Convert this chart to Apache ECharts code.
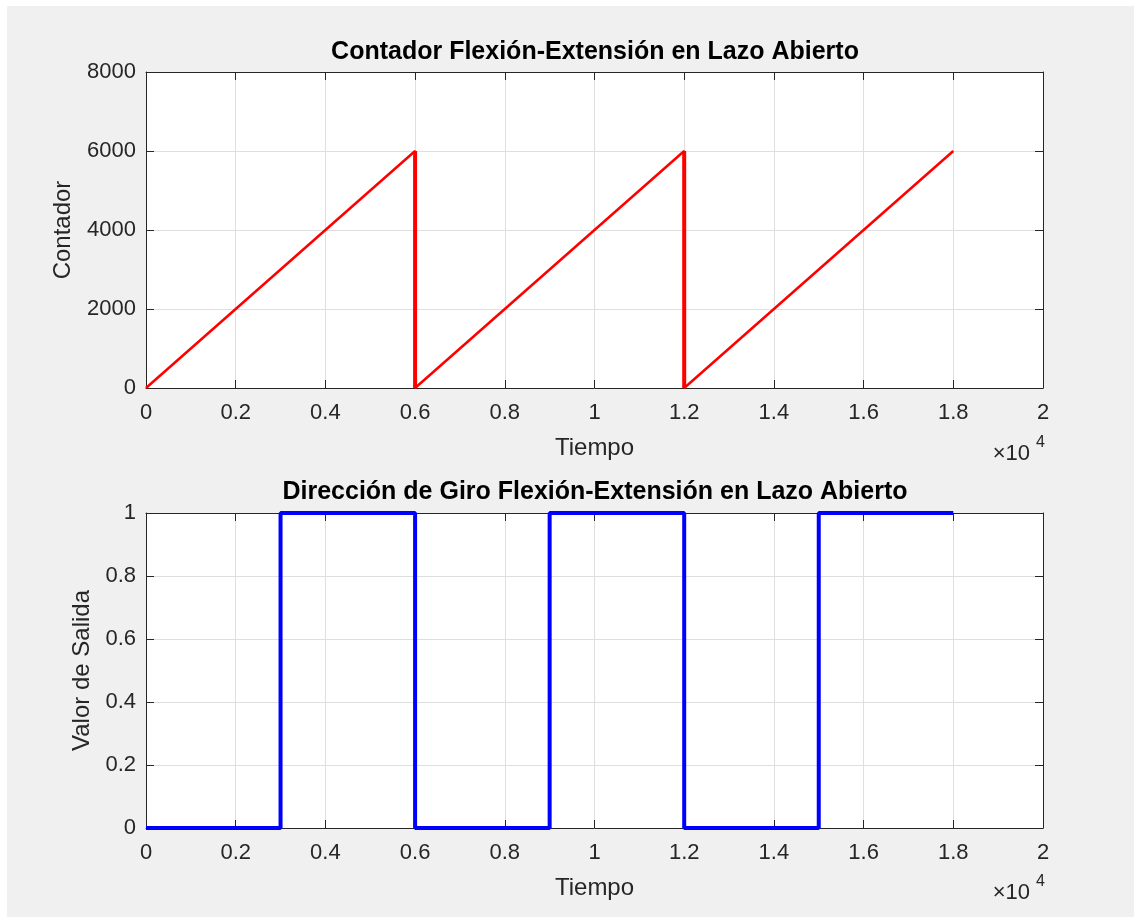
<!DOCTYPE html>
<html>
<head>
<meta charset="utf-8">
<script src="https://cdn.jsdelivr.net/npm/echarts@6/dist/echarts.min.js"></script>
<style>
  html, body { margin: 0; padding: 0; background: #ffffff; }
  #bg { position: absolute; left: 7px; top: 6px; width: 1127px; height: 911px; background: #f0f0f0; }
  #chart { position: absolute; left: 0; top: 0; width: 1134px; height: 917px; }
</style>
</head>
<body>
<div id="bg"></div>
<div id="chart"></div>
<script>
// contador (rampas + caidas)
const contadorX = [0, 6000, 6000, 12000, 12000, 18000];
const contadorY = [0, 6000, 0, 6000, 0, 6000];
const caidaX = [6000, 12000];
const caidaTop = 6000;
const caidaBottom = 0;

// direccion de giro (escalon)
const giroX = [0, 3000, 6000, 9000, 12000, 15000, 18000];
const giroY = [0, 1, 0, 1, 0, 1, 1];

const xTicks = [0, 20000, 2000];
const yTicksTop = [0, 8000, 2000];
const yTicksBottom = [0, 1, 0.2];

const font = "'Liberation Sans', Arial, Helvetica, sans-serif";
const axisColor = "#262626";
const gridColor = "#dfdfdf";

var chart = echarts.init(document.getElementById("chart"));

const fmtX = (v) => String(+(v / 10000).toFixed(4));
const fmtY = (v) => String(+v.toFixed(4));

function xAxes(gi) {
  return [
    {
      gridIndex: gi, type: "value", position: "bottom",
      min: xTicks[0], max: xTicks[1], interval: xTicks[2],
      name: "Tiempo", nameLocation: "middle", nameGap: 48,
      nameTextStyle: { color: axisColor, fontSize: 24, fontFamily: font },
      axisLine: { onZero: false, lineStyle: { color: axisColor, width: 1 } },
      axisTick: { inside: true, length: 8, lineStyle: { color: axisColor } },
      axisLabel: { formatter: fmtX, color: axisColor, fontSize: 22, fontFamily: font, margin: 14 },
      splitLine: { show: true, lineStyle: { color: gridColor, width: 1 } },
    },
    {
      gridIndex: gi, type: "value", position: "top",
      min: xTicks[0], max: xTicks[1], interval: xTicks[2],
      axisLine: { onZero: false, lineStyle: { color: axisColor, width: 1 } },
      axisTick: { inside: true, length: 8, lineStyle: { color: axisColor } },
      axisLabel: { show: false },
      splitLine: { show: false },
    },
  ];
}

function yAxes(gi, t, name, gap) {
  return [
    {
      gridIndex: gi, type: "value", position: "left",
      min: t[0], max: t[1], interval: t[2],
      name: name, nameLocation: "middle", nameGap: gap,
      nameTextStyle: { color: axisColor, fontSize: 24, fontFamily: font },
      axisLine: { onZero: false, lineStyle: { color: axisColor, width: 1 } },
      axisTick: { inside: true, length: 8, lineStyle: { color: axisColor } },
      axisLabel: { formatter: fmtY, color: axisColor, fontSize: 22, fontFamily: font, margin: 10 },
      splitLine: { show: true, lineStyle: { color: gridColor, width: 1 } },
    },
    {
      gridIndex: gi, type: "value", position: "right",
      min: t[0], max: t[1], interval: t[2],
      axisLine: { onZero: false, lineStyle: { color: axisColor, width: 1 } },
      axisTick: { inside: true, length: 8, lineStyle: { color: axisColor } },
      axisLabel: { show: false },
      splitLine: { show: false },
    },
  ];
}

const series = [
  {
    type: "line", xAxisIndex: 0, yAxisIndex: 0,
    data: contadorX.map((x, i) => [x, contadorY[i]]),
    showSymbol: false, clip: false, animation: false,
    lineStyle: { color: "#ff0000", width: 2.5 },
  },
];
caidaX.forEach((x) => {
  series.push({
    type: "line", xAxisIndex: 0, yAxisIndex: 0,
    data: [[x, caidaTop], [x, caidaBottom]],
    showSymbol: false, clip: false, animation: false,
    lineStyle: { color: "#ff0000", width: 4 },
  });
});
series.push({
  type: "line", xAxisIndex: 2, yAxisIndex: 2, step: "end",
  data: giroX.map((x, i) => [x, giroY[i]]),
  showSymbol: false, clip: false, animation: false,
  lineStyle: { color: "#0000ff", width: 4 },
});

var option = {
  animation: false,
  backgroundColor: "transparent",
  textStyle: { fontFamily: font },
  grid: [
    { left: 146, right: 91, top: 72, height: 316, show: true, backgroundColor: "#ffffff", borderWidth: 0 },
    { left: 146, right: 91, top: 513, height: 315, show: true, backgroundColor: "#ffffff", borderWidth: 0 },
  ],
  xAxis: xAxes(0).concat(xAxes(1)),
  yAxis: yAxes(0, yTicksTop, "Contador", 71).concat(yAxes(1, yTicksBottom, "Valor de Salida", 52)),
  series: series,
  graphic: [
    { type: "text", x: 595, y: 52, style: { text: "Contador Flexión-Extensión en Lazo Abierto", fill: "#000", font: "bold 25px " + font, align: "center", verticalAlign: "middle" } },
    { type: "text", x: 595, y: 492, style: { text: "Dirección de Giro Flexión-Extensión en Lazo Abierto", fill: "#000", font: "bold 25px " + font, align: "center", verticalAlign: "middle" } },
    { type: "text", x: 1030, y: 454, style: { text: "×10", fill: axisColor, font: "22px " + font, align: "right", verticalAlign: "middle" } },
    { type: "text", x: 1036, y: 443, style: { text: "4", fill: axisColor, font: "16px " + font, align: "left", verticalAlign: "middle" } },
    { type: "text", x: 1030, y: 893, style: { text: "×10", fill: axisColor, font: "22px " + font, align: "right", verticalAlign: "middle" } },
    { type: "text", x: 1036, y: 882, style: { text: "4", fill: axisColor, font: "16px " + font, align: "left", verticalAlign: "middle" } },
  ],
};

chart.setOption(option);
</script>
</body>
</html>
